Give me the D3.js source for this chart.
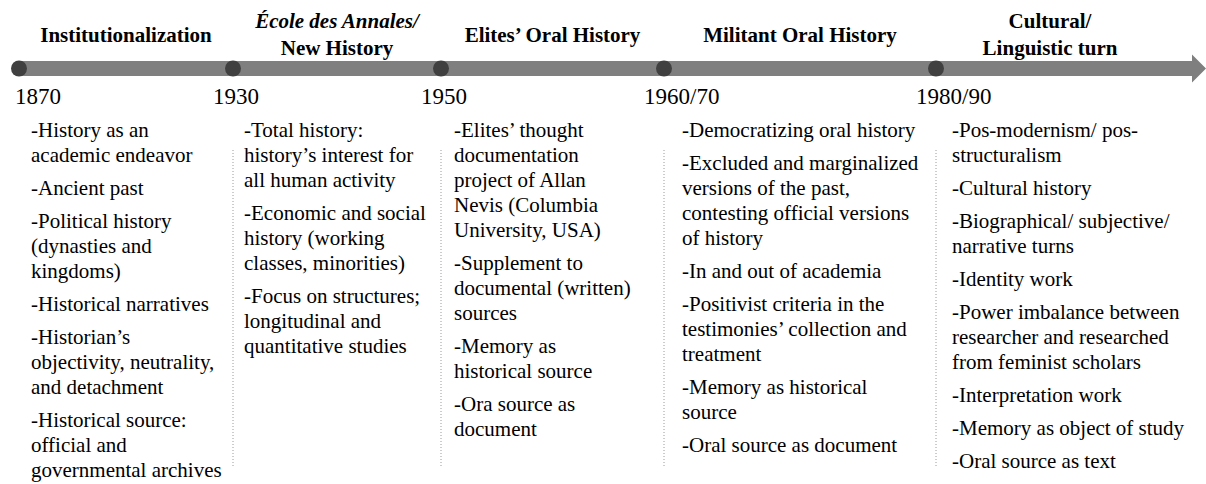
<!DOCTYPE html>
<html>
<head>
<meta charset="utf-8">
<script src="https://cdn.jsdelivr.net/npm/d3@7"></script>
</head>
<body style="margin:0">
<script>
// periods on the timeline
var periods = ["1870", "1930", "1950", "1960/70", "1980/90"];

// headings above the arrow (one array per heading, one entry per line)
var titles = [
  ["Institutionalization"],
  ["École des Annales/", "New History"],
  ["Elites’ Oral History"],
  ["Militant Oral History"],
  ["Cultural/", "Linguistic turn"]
];
var italicTitles = ["École des Annales/"];

// the bullet points under each period, paragraph by paragraph
var items1870 = [
  ["-History as an", "academic endeavor"],
  ["-Ancient past"],
  ["-Political history", "(dynasties and", "kingdoms)"],
  ["-Historical narratives"],
  ["-Historian’s", "objectivity, neutrality,", "and detachment"],
  ["-Historical source:", "official and", "governmental archives"]
];
var items1930 = [
  ["-Total history:", "history’s interest for", "all human activity"],
  ["-Economic and social", "history (working", "classes, minorities)"],
  ["-Focus on structures;", "longitudinal and", "quantitative studies"]
];
var items1950 = [
  ["-Elites’ thought", "documentation", "project of Allan", "Nevis (Columbia", "University, USA)"],
  ["-Supplement to", "documental (written)", "sources"],
  ["-Memory as", "historical source"],
  ["-Ora source as", "document"]
];
var items1960 = [
  ["-Democratizing oral history"],
  ["-Excluded and marginalized", "versions of the past,", "contesting official versions", "of history"],
  ["-In and out of academia"],
  ["-Positivist criteria in the", "testimonies’ collection and", "treatment"],
  ["-Memory as historical", "source"],
  ["-Oral source as document"]
];
var items1980 = [
  ["-Pos-modernism/ pos-", "structuralism"],
  ["-Cultural history"],
  ["-Biographical/ subjective/", "narrative turns"],
  ["-Identity work"],
  ["-Power imbalance between", "researcher and researched", "from feminist scholars"],
  ["-Interpretation work"],
  ["-Memory as object of study"],
  ["-Oral source as text"]
];
var columns = [items1870, items1930, items1950, items1960, items1980];

// layout
var width = 1206, height = 484;
var axisY = 68.5, barH = 15, arrowEnd = 1206, arrowBase = 1192, segEnd = 1164;
var textDx = [12, 11, 13, 18, 16];
var lineH = 25, paraGap = 8, firstLine = 137;

var x = d3.scaleOrdinal()
    .domain(periods)
    .range([19, 233, 441, 664, 936]);

var svg = d3.select('body').append('svg')
    .attr('width', width)
    .attr('height', height)
    .attr('font-family', 'Liberation Serif');

// arrow shaft + head
svg.append('path')
    .attr('d', 'M' + (x(periods[0])) + ',' + (axisY - barH / 2) +
               'H' + arrowBase + 'V' + (axisY - 14) +
               'L' + arrowEnd + ',' + axisY +
               'L' + arrowBase + ',' + (axisY + 14) +
               'V' + (axisY + barH / 2) +
               'H' + x(periods[0]) + 'Z')
    .style('fill', '#7f7f7f');

// dotted separators between columns
svg.append('g').selectAll('line')
    .data(periods.slice(1))
    .enter()
      .append('line')
      .attr('x1', function(d) { return x(d); })
      .attr('x2', function(d) { return x(d); })
      .attr('y1', 150)
      .attr('y2', 468)
      .style('stroke', '#9a9a9a')
      .style('stroke-width', 1)
      .style('stroke-dasharray', '1,2');

// period dots
svg.append('g').selectAll('circle')
    .data(periods)
    .enter()
      .append('circle')
      .attr('cx', function(d) { return x(d); })
      .attr('cy', axisY)
      .attr('r', 8)
      .style('fill', '#404040');

// year labels
svg.append('g').selectAll('text')
    .data(periods)
    .enter()
      .append('text')
      .attr('x', function(d) { return Math.max(15, x(d) - 20); })
      .attr('y', 104)
      .style('font-family', function() { return '"Liberation Serif"'; })
      .style('font-size', '23px')
      .text(function(d) { return d; });

// headings, centred over each segment
var titleG = svg.append('g').selectAll('text')
    .data(titles)
    .enter()
      .append('text')
      .attr('x', function(d, i) {
          var next = i < periods.length - 1 ? x(periods[i + 1]) : segEnd;
          return (x(periods[i]) + next) / 2;
      })
      .attr('y', function(d) { return d.length > 1 ? 28 : 42; })
      .style('font-family', function() { return '"Liberation Serif"'; })
      .style('font-size', '21px')
      .style('font-weight', 'bold')
      .style('text-anchor', 'middle');

titleG.selectAll('tspan')
    .data(function(d) { return d; })
    .enter()
      .append('tspan')
      .attr('x', function() { return d3.select(this.parentNode).attr('x'); })
      .attr('dy', function(d, i) { return i === 0 ? 0 : 27; })
      .style('font-style', function(d) { return italicTitles.indexOf(d) >= 0 ? 'italic' : 'normal'; })
      .text(function(d) { return d; });

// bullet text
columns.forEach(function(col, ci) {
    var rows = [];
    var y = firstLine;
    col.forEach(function(para, pi) {
        if (pi > 0) y += paraGap;
        para.forEach(function(line) {
            rows.push({ text: line, y: y });
            y += lineH;
        });
    });
    svg.append('g')
        .attr('transform', 'translate(' + (x(periods[ci]) + textDx[ci]) + ',0)')
        .selectAll('text')
        .data(rows)
        .enter()
          .append('text')
          .attr('x', 0)
          .attr('y', function(d) { return d.y; })
          .style('font-family', function() { return '"Liberation Serif"'; })
          .style('font-size', '21px')
          .text(function(d) { return d.text; });
});
</script>
</body>
</html>
